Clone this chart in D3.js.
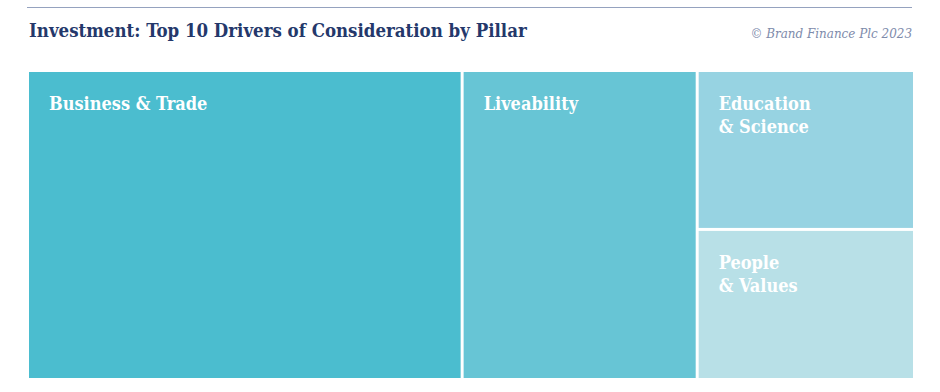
<!DOCTYPE html>
<html>
<head>
<meta charset="utf-8">
<script src="https://cdn.jsdelivr.net/npm/d3@7"></script>
<style>
  html, body { margin: 0; padding: 0; background: #ffffff; }
  svg { display: block; }
</style>
</head>
<body>
<svg id="chart" width="940" height="392"></svg>
<script>
// ---- Data ----
const pillars = ["Business & Trade", "Liveability", "Education\n& Science", "People\n& Values"];
const shares = [49.0, 26.5, 12.6, 11.9];
const colors = ["#4bbdcf", "#67c5d5", "#97d3e2", "#b8e0e7"];
const titleText = "Investment: Top 10 Drivers of Consideration by Pillar";
const creditText = "\u00A9 Brand Finance Plc 2023";

// ---- Layout ----
const mapLeft = 29, mapRight = 913, mapTop = 72, mapBottom = 378;
const serifC = "'DejaVu Serif Condensed', 'DejaVu Serif', 'Liberation Serif', serif";

const svg = d3.select("#chart");

svg.append("line")
  .attr("x1", 27).attr("x2", 912).attr("y1", 7.5).attr("y2", 7.5)
  .attr("stroke", "#95a2bf").attr("stroke-width", 1.2);

svg.append("text")
  .attr("x", 29).attr("y", 37)
  .attr("font-family", serifC).attr("font-weight", "bold")
  .attr("font-size", 18.5).attr("fill", "#24386b")
  .text(titleText);

svg.append("text")
  .attr("x", 912).attr("y", 38).attr("text-anchor", "end")
  .attr("font-family", serifC).attr("font-style", "italic")
  .attr("font-size", 13.3).attr("fill", "#7e8bab")
  .text(creditText);

const data = { name: "root", children: pillars.map((p, i) => ({ name: p, value: shares[i], color: colors[i] })) };
const root = d3.hierarchy(data).sum(d => d.value || 0);

d3.treemap()
  .tile(d3.treemapBinary)
  .size([mapRight - mapLeft, mapBottom - mapTop])
  .paddingInner(3)(root);

const g = svg.append("g").attr("transform", `translate(${mapLeft},${mapTop})`);
const cells = g.selectAll("g.cell").data(root.leaves()).join("g")
  .attr("class", "cell")
  .attr("transform", d => `translate(${d.x0},${d.y0})`);

cells.append("rect")
  .attr("width", d => d.x1 - d.x0)
  .attr("height", d => d.y1 - d.y0)
  .attr("fill", d => d.data.color);

cells.append("text")
  .attr("font-family", serifC).attr("font-weight", "bold")
  .attr("font-size", 18).attr("fill", "#ffffff")
  .selectAll("tspan").data(d => d.data.name.split("\n")).join("tspan")
  .attr("x", 20)
  .attr("y", (t, i) => 38 + i * 23)
  .text(t => t);
</script>
</body>
</html>
